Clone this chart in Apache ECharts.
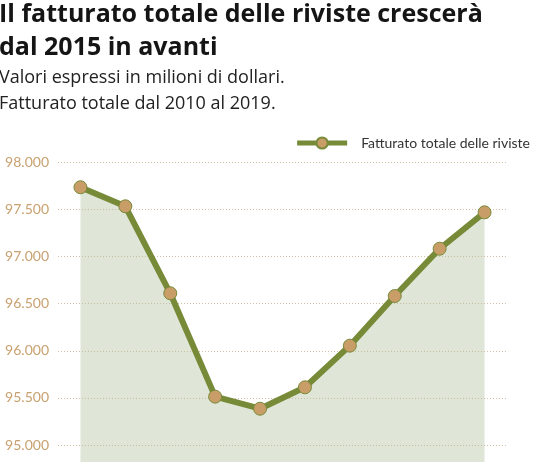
<!DOCTYPE html>
<html>
<head>
<meta charset="utf-8">
<script src="https://cdn.jsdelivr.net/npm/echarts@6/dist/echarts.min.js"></script>
<style>
  html, body { margin: 0; padding: 0; background: #fff; }
  #chart { width: 534px; height: 462px; }
</style>
</head>
<body>
<div id="chart"></div>
<script>
// anni e fatturato (milioni di dollari)
var anni = ['2010', '2011', '2012', '2013', '2014', '2015', '2016', '2017', '2018', '2019'];
var fatturato = [97735, 97533, 96610, 95513, 95385, 95612, 96054, 96581, 97083, 97469];
var serieNome = 'Fatturato totale delle riviste';

var fmt = function (v) {
    return String(v).replace(/\B(?=(\d{3})+(?!\d))/g, '.');
};

var chart = echarts.init(document.getElementById('chart'), null, { renderer: 'canvas' });
chart.setOption({
    animation: false,
    title: {
        text: 'Il fatturato totale delle riviste crescerà\ndal 2015 in avanti',
        subtext: 'Valori espressi in milioni di dollari.\nFatturato totale dal 2010 al 2019.',
        left: -1, top: -2, padding: 0, itemGap: 1,
        textStyle: { fontFamily: 'Open Sans', fontWeight: 'bold', fontSize: 25, color: '#151515', lineHeight: 33 },
        subtextStyle: { fontFamily: 'Open Sans', fontSize: 18, color: '#222', lineHeight: 26 }
    },
    legend: {
        right: 4, top: 136, padding: 0,
        itemWidth: 50, itemHeight: 14,
        lineStyle: { width: 5 },
        textStyle: { fontFamily: 'Lato', fontSize: 14, color: '#333', padding: [0, 0, 0, 9] },
        data: [serieNome]
    },
    grid: { left: 58, right: 27, top: 162.3, height: 329.8, outerBoundsMode: 'none', containLabel: false },
    xAxis: {
        type: 'category', data: anni, boundaryGap: true,
        axisLine: { show: false }, axisTick: { show: false }, axisLabel: { show: false }
    },
    yAxis: {
        type: 'value', min: 94500, max: 98000, interval: 500,
        axisLine: { show: false }, axisTick: { show: false },
        axisLabel: { formatter: fmt, fontFamily: 'Lato', fontSize: 14, color: '#c9a16f', margin: 9 },
        splitLine: { lineStyle: { type: [1, 2], color: '#d6bfa5', width: 1 } }
    },
    series: [{
        name: serieNome, type: 'line', data: fatturato,
        symbol: 'circle', symbolSize: 13,
        lineStyle: { color: '#778a38', width: 6 },
        itemStyle: { color: '#c89d68', borderColor: '#778a38', borderWidth: 1 },
        areaStyle: { color: 'rgba(170,190,150,0.38)', opacity: 1 },
        z: 2
    }]
});
</script>
</body>
</html>
